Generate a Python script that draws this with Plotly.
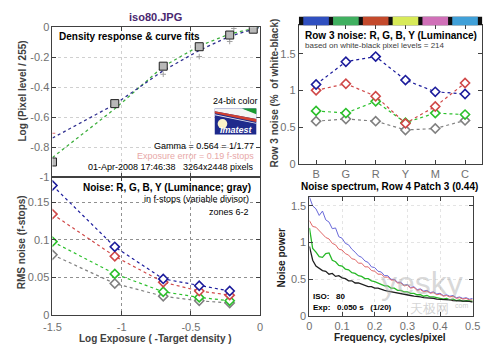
import plotly.graph_objects as go

W, H = 500, 352
def px(x): return x / W
def py(y): return 1 - y / H

FONT = "Liberation Sans, Arial, sans-serif"

# ---------------- data ----------------
# Density response (top-left)
density_x = [-1.5, -1.05, -0.70, -0.44, -0.22, -0.05]
density_y = [-0.90, -0.51, -0.26, -0.13, -0.052, -0.013]
chan_x = [-1.05, -0.70, -0.44, -0.22, -0.19]
chan_y = [-0.50, -0.314, -0.196, -0.095, -0.008]
fit_x = [-1.5, -1.05, -0.70, -0.44, -0.22, -0.05, -0.01]
fit_blue = [-0.74, -0.515, -0.29, -0.155, -0.06, -0.012, -0.003]
fit_green = [-0.87, -0.545, -0.262, -0.125, -0.045, -0.006, 0.0]

# RMS noise (bottom-left)
log_exp = [-1.5, -1.05, -0.70, -0.44, -0.22]
rms_blue = [0.172, 0.0906, 0.048, 0.039, 0.032]
rms_red = [0.134, 0.078, 0.0436, 0.032, 0.0265]
rms_green = [0.0975, 0.0547, 0.031, 0.0235, 0.019]
rms_gray = [0.080, 0.042, 0.025, 0.019, 0.016]

# Row 3 noise (top-right)
patches = ["B", "G", "R", "Y", "M", "C"]
row_blue = [1.08, 1.39, 1.46, 1.14, 0.98, 0.95]
row_red = [1.00, 1.09, 0.92, 0.55, 0.78, 1.10]
row_green = [0.72, 0.69, 0.85, 0.56, 0.69, 0.67]
row_gray = [0.58, 0.61, 0.58, 0.46, 0.48, 0.59]
patch_colors = ["#3050c0", "#40b060", "#c44a2c", "#d8ea58", "#d070b8", "#40a0d8"]

# Noise spectrum (bottom-right), 0 .. 0.5 cycles/pixel
spec_blue = [1.62,1.50,1.46,1.37,1.43,1.31,1.28,1.19,1.20,1.08,
             1.06,0.99,0.97,0.91,0.87,0.82,0.80,0.75,0.73,0.67,
             0.66,0.61,0.60,0.55,0.55,0.50,0.50,0.46,0.46,0.42,
             0.43,0.39,0.40,0.36,0.37,0.34,0.35,0.32,0.33,0.30,
             0.31,0.28,0.29,0.27,0.28,0.25,0.26,0.24,0.25,0.23,0.24]
spec_red = [1.30,1.22,1.21,1.16,1.12,1.07,1.05,0.99,0.97,0.91,
            0.90,0.85,0.83,0.78,0.77,0.72,0.72,0.67,0.67,0.62,
            0.61,0.57,0.57,0.53,0.53,0.49,0.49,0.45,0.45,0.41,
            0.42,0.38,0.39,0.35,0.36,0.33,0.34,0.31,0.32,0.29,
            0.30,0.27,0.28,0.26,0.27,0.24,0.25,0.23,0.24,0.22,0.22]
spec_green = [1.20,0.92,0.87,0.81,0.80,0.85,0.86,0.76,0.74,0.69,
              0.68,0.64,0.63,0.59,0.58,0.55,0.54,0.51,0.51,0.48,
              0.47,0.45,0.44,0.41,0.41,0.38,0.38,0.35,0.35,0.33,
              0.33,0.31,0.31,0.29,0.29,0.27,0.28,0.26,0.26,0.25,
              0.25,0.23,0.24,0.22,0.23,0.21,0.22,0.20,0.21,0.20,0.20]
spec_black = [0.95,0.76,0.68,0.65,0.62,0.61,0.57,0.58,0.54,0.55,
              0.52,0.51,0.48,0.48,0.45,0.45,0.43,0.42,0.40,0.40,
              0.38,0.38,0.36,0.35,0.34,0.33,0.32,0.31,0.30,0.30,
              0.28,0.28,0.27,0.27,0.26,0.25,0.25,0.24,0.24,0.23,
              0.23,0.22,0.22,0.22,0.21,0.21,0.21,0.20,0.20,0.20,0.19]
freq = [i * 0.01 for i in range(len(spec_blue))]

BLUE, RED, GREEN, GRAY = "#1c1c9c", "#d04848", "#2cc02c", "#808080"

fig = go.Figure()

# ---- top-left ----
fig.add_trace(go.Scatter(x=fit_x, y=fit_green, xaxis="x", yaxis="y", mode="lines",
                         line=dict(color="#40b040", width=1.3, dash="dot")))
fig.add_trace(go.Scatter(x=fit_x, y=fit_blue, xaxis="x", yaxis="y", mode="lines",
                         line=dict(color="#303090", width=1.3, dash="dot")))
fig.add_trace(go.Scatter(x=chan_x, y=chan_y, xaxis="x", yaxis="y", mode="markers",
                         marker=dict(symbol="cross-thin", size=4, line=dict(color="#a0a0a0", width=1))))
fig.add_trace(go.Scatter(x=[-1.5], y=[-0.708], xaxis="x", yaxis="y", mode="markers",
                         marker=dict(symbol="line-ew", size=4, line=dict(color="#e07070", width=1))))
fig.add_trace(go.Scatter(x=density_x, y=density_y, xaxis="x", yaxis="y", mode="markers",
                         marker=dict(symbol="square", size=8, color="#b8b8b8",
                                     line=dict(color="#202020", width=1))))

# ---- bottom-left ----
for vals, col in [(rms_gray, GRAY), (rms_green, GREEN), (rms_red, RED), (rms_blue, BLUE)]:
    fig.add_trace(go.Scatter(x=log_exp, y=vals, xaxis="x2", yaxis="y2", mode="lines+markers",
                             line=dict(color=col, width=1.2, dash="dot"),
                             marker=dict(symbol="diamond", size=7, color="white",
                                         line=dict(color=col, width=1.6))))

# ---- top-right ----
cat_x = list(range(1, len(patches) + 1))
for vals, col in [(row_gray, GRAY), (row_green, GREEN), (row_red, RED), (row_blue, BLUE)]:
    fig.add_trace(go.Scatter(x=cat_x, y=vals, xaxis="x3", yaxis="y3", mode="lines+markers",
                             line=dict(color=col, width=1.2, dash="dot"),
                             marker=dict(symbol="diamond", size=7, color="white",
                                         line=dict(color=col, width=1.6))))

# ---- bottom-right ----
for vals, col, w in [(spec_blue, "#6868d8", 1), (spec_red, "#e06868", 1),
                     (spec_green, "#28b828", 1.3), (spec_black, "#202020", 1.3)]:
    fig.add_trace(go.Scatter(x=freq, y=vals, xaxis="x4", yaxis="y4", mode="lines",
                             line=dict(color=col, width=w)))

tickfont = dict(family=FONT, size=11, color="#707070")
def ax(**kw):
    d = dict(showline=True, linecolor="#404040", linewidth=1, mirror="ticks", ticks="inside",
             ticklen=4, tickcolor="#404040", tickfont=tickfont, zeroline=False,
             showgrid=True, gridcolor="#d0d0d0", griddash="dot", gridwidth=1)
    d.update(kw)
    return d

fig.update_layout(
    width=W, height=H, margin=dict(l=0, r=0, t=0, b=0),
    paper_bgcolor="white", plot_bgcolor="white", showlegend=False,
    font=dict(family=FONT),
    xaxis=ax(domain=[px(45), px(260)], range=[-1.5, 0], tickvals=[-1.5, -1, -0.5, 0],
             showticklabels=False, anchor="y"),
    yaxis=ax(domain=[py(177), py(22)], range=[-1, 0], tickvals=[-1, -0.8, -0.6, -0.4, -0.2, 0],
             ticktext=["-1", "-0.8", "-0.6", "-0.4", "-0.2", "0"], anchor="x"),
    xaxis2=ax(domain=[px(45), px(260)], range=[-1.5, 0], tickvals=[-1.5, -1, -0.5, 0],
              ticktext=["-1.5", "-1", "-0.5", "0"], anchor="y2", gridcolor="#909090",
              ticklabelstandoff=2),
    yaxis2=ax(domain=[py(320), py(177)], range=[0, 0.1833], tickvals=[0, 0.05, 0.1, 0.15],
              ticktext=["0", "0.05", "0.1", "0.15"], anchor="x2", gridcolor="#909090"),
    xaxis3=ax(domain=[px(300), px(490)], range=[0.42, 6.58], tickvals=cat_x, ticktext=patches,
              anchor="y3", showgrid=False),
    yaxis3=ax(domain=[py(163.3), py(20)], range=[0, 1.886], tickvals=[0, 0.5, 1, 1.5],
              ticktext=["0", "0.5", "1", "1.5"], anchor="x3", showgrid=False),
    xaxis4=ax(domain=[px(311), px(480)], range=[0, 0.5], tickvals=[0, 0.1, 0.2, 0.3, 0.4, 0.5],
              ticktext=["0", "0.1", "0.2", "0.3", "0.4", "0.5"], anchor="y4", gridcolor="#e4e4e4"),
    yaxis4=ax(domain=[py(321), py(198)], range=[0, 1.618], tickvals=[0, 0.5, 1, 1.5],
              ticktext=["0", "0.5", "1", "1.5"], anchor="x4", gridcolor="#e4e4e4"),
)

shapes = []
# colour bar above the row-3 plot
shapes.append(dict(type="rect", xref="x3", yref="paper", x0=0.42, x1=6.58,
                   y0=py(20), y1=py(11), fillcolor="#101010", line=dict(width=0), layer="above"))
for i, c in enumerate(patch_colors):
    shapes.append(dict(type="rect", xref="x3", yref="paper", x0=i + 1 - 0.43, x1=i + 1 + 0.43,
                       y0=py(20), y1=py(11), fillcolor=c, line=dict(width=0), layer="above"))

# Imatest logo
def path(pts):
    return "M " + " L ".join(f"{px(x):.5f},{py(y):.5f}" for x, y in pts) + " Z"
shapes.append(dict(type="rect", xref="paper", yref="paper", x0=px(213), x1=px(256),
                   y0=py(133), y1=py(106), fillcolor="#1e2a8c", line=dict(width=0), layer="above"))
shapes.append(dict(type="path", xref="paper", yref="paper",
                   path=path([(213, 106), (242, 106), (256, 111), (256, 117), (213, 109)]),
                   fillcolor="#f4f4f4", line=dict(width=0), layer="above"))
shapes.append(dict(type="path", xref="paper", yref="paper",
                   path=path([(241, 106), (256, 106), (256, 112)]),
                   fillcolor="#1a9a30", line=dict(width=0), layer="above"))
shapes.append(dict(type="path", xref="paper", yref="paper",
                   path=path([(213, 109), (256, 117), (256, 120), (213, 111)]),
                   fillcolor="#d04030", line=dict(width=0), layer="above"))
shapes.append(dict(type="path", xref="paper", yref="paper",
                   path=path([(213, 112), (256, 121), (256, 122), (213, 113)]),
                   fillcolor="#e8e8f0", line=dict(width=0), layer="above"))
shapes.append(dict(type="circle", xref="paper", yref="paper", x0=px(216), x1=px(226),
                   y0=py(127), y1=py(117), fillcolor="#faf4c8", line=dict(width=0), layer="above"))
fig.update_layout(shapes=shapes)

def txt(x, y, s, size=9, color="black", bold=False, xanchor="left", angle=0, italic=False):
    if bold:
        s = "<b>" + s + "</b>"
    if italic:
        s = "<i>" + s + "</i>"
    fig.add_annotation(x=px(x), y=py(y), xref="paper", yref="paper", text=s, showarrow=False,
                       xanchor=xanchor, yanchor="middle", textangle=angle,
                       font=dict(family=FONT, size=size, color=color))

txt(152, 11, "iso80.JPG", size=11, color="#4a2870", bold=True, xanchor="center")
txt(50, 32, "Density response &amp; curve fits", size=10, bold=True)
txt(234, 98, "24-bit color", size=9, xanchor="center")
txt(235, 128, "Imatest", size=9, color="white", bold=True, italic=True, xanchor="center")
txt(256, 145, "Gamma = 0.564 = 1/1.77", size=9, xanchor="right")
txt(256, 155, "Exposure error = 0.19 f-stops", size=9, color="#e8a8a8", xanchor="right")
txt(256, 167, "01-Apr-2008 17:46:38   3264x2448 pixels", size=9, xanchor="right")
txt(13, 88, "Log (Pixel level / 255)", size=10, color="#404040", bold=True, xanchor="center", angle=-90)

txt(253, 188, "Noise: R, G, B, Y (Luminance; gray)", size=10, bold=True, xanchor="right")
txt(251, 200, "in f-stops (variable divisor)", size=9, xanchor="right")
txt(251, 213, "zones 6-2", size=9, xanchor="right")
txt(13, 245, "RMS noise (f-stops)", size=10, color="#404040", bold=True, xanchor="center", angle=-90)
txt(152, 344, "Log Exposure ( -Target density )", size=10, color="#404040", bold=True, xanchor="center")

txt(304, 31, "Row 3 noise: R, G, B, Y (Luminance)", size=10, bold=True)
txt(304, 41, "based on white-black pixel levels = 214", size=8, color="#404040")
txt(275, 90, "Row 3 noise (%  of white-black)", size=10, color="#404040", bold=True, xanchor="center", angle=-90)

# watermark (kept clear of the ISO / Exp text)
txt(428, 287, "yesky", size=32, color="rgba(170,170,170,0.45)", xanchor="center")
txt(435, 313, "天极网", size=13, color="rgba(170,170,170,0.5)", xanchor="center")
txt(468, 310, "com", size=7, color="rgba(170,170,170,0.6)", xanchor="center")

txt(394, 187, "Noise spectrum, Row 4 Patch 3 (0.44)", size=10, bold=True, xanchor="center")
txt(313, 301, "ISO:   80", size=8, bold=True)
txt(313, 312, "Exp:   0.050 s   (1/20)", size=8, bold=True)
txt(282, 260, "Noise power", size=10, color="#202020", bold=True, xanchor="center", angle=-90)
txt(394, 343, "Frequency, cycles/pixel", size=10, color="#202020", bold=True, xanchor="center")

fig.write_html("out.html")
